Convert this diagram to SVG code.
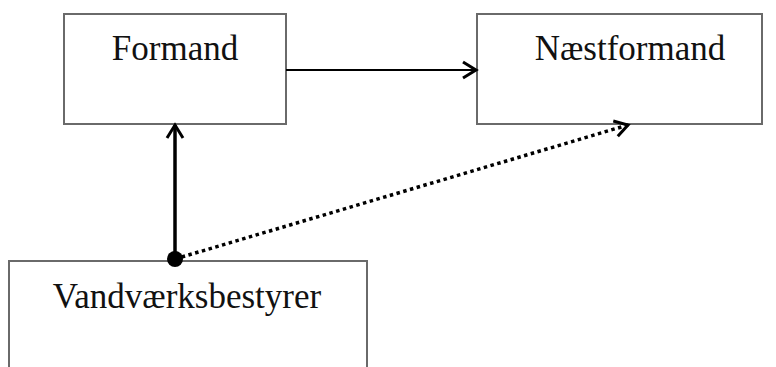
<svg xmlns="http://www.w3.org/2000/svg" width="776" height="367" viewBox="0 0 776 367">
<style>
.box{fill:#fff;stroke:#6a6a6a;stroke-width:2}
.lbl{font-family:"Liberation Serif",serif;font-size:35px;fill:#111;text-anchor:middle}
.con{fill:none;stroke:#000}
</style>
<defs>
<marker id="open" markerWidth="22" markerHeight="22" refX="16" refY="10" orient="auto" markerUnits="userSpaceOnUse">
<path d="M3,2 L16,10 L3,18" fill="none" stroke="#000" stroke-width="3"/>
</marker>
</defs>
<rect width="776" height="367" fill="#fff"/>
<g id="formand"><rect class="box" x="64" y="14" width="222" height="110"/><text class="lbl" x="175" y="60">Formand</text></g>
<g id="naestformand"><rect class="box" x="477" y="14" width="285" height="110"/><text class="lbl" x="630" y="60">Næstformand</text></g>
<g id="vandvaerksbestyrer"><rect class="box" x="9" y="261" width="358" height="120"/><text class="lbl" x="187" y="308">Vandværksbestyrer</text></g>
<g id="connectors">
<line class="con" x1="286" y1="70" x2="476" y2="70" stroke-width="2" marker-end="url(#open)"/>
<line class="con" x1="175" y1="259" x2="175" y2="125" stroke-width="3.5" marker-end="url(#open)"/>
<line class="con" x1="175" y1="259" x2="628" y2="125" stroke-width="3.5" stroke-dasharray="3.5 3.5" marker-end="url(#open)"/>
<circle cx="175" cy="259" r="8" fill="#000"/>
</g>
</svg>
